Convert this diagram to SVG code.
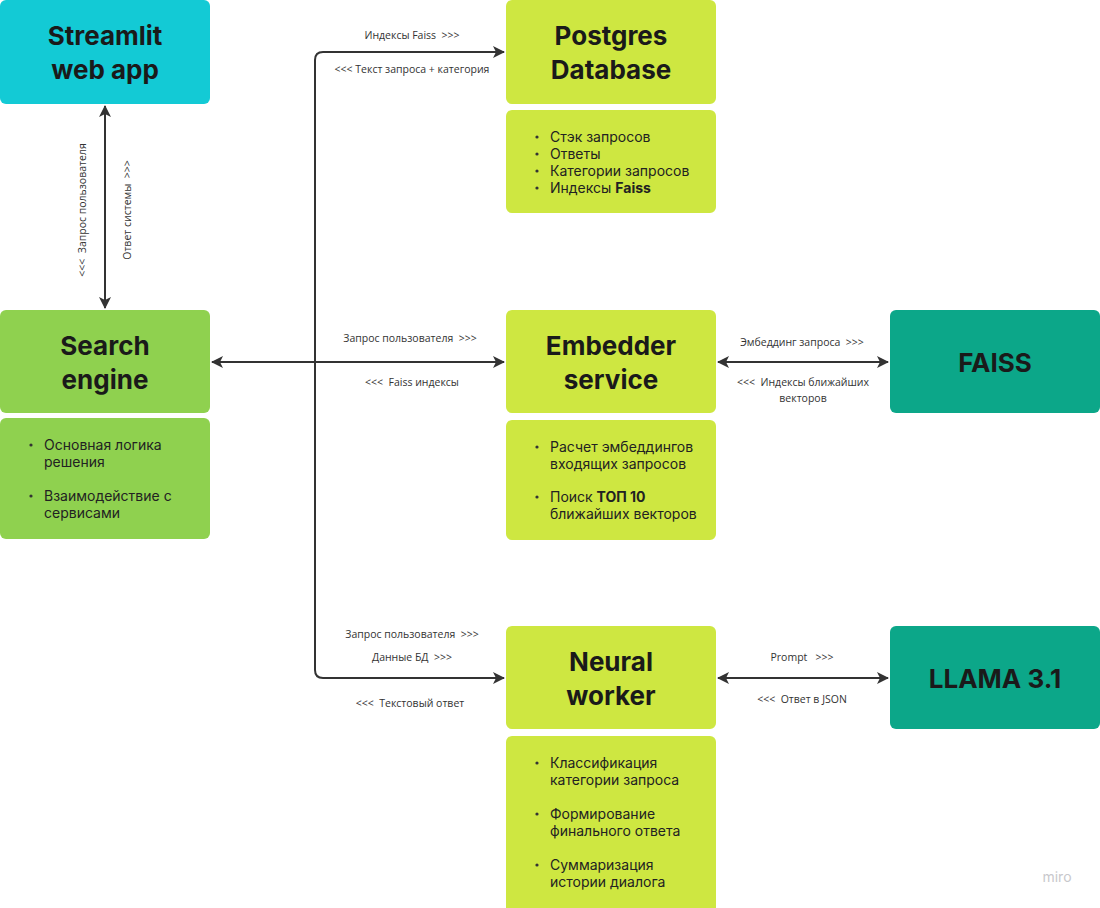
<svg xmlns="http://www.w3.org/2000/svg" width="1100" height="908" viewBox="0 0 1100 908">
<style>
.title{font-family:"Inter","Noto Sans","DejaVu Sans",sans-serif;font-weight:700;font-size:26px;fill:#1a1a1a;text-anchor:middle}
.bul{font-family:"Inter","Noto Sans","DejaVu Sans",sans-serif;font-size:14px;fill:#222}
.lbl{font-family:"Open Sans","Noto Sans","DejaVu Sans",sans-serif;font-size:10.5px;fill:#333;text-anchor:middle;white-space:pre}
.conn{fill:none;stroke:#333;stroke-width:2}
.dot{fill:#333}
</style>
<defs>
<marker id="ah" viewBox="0 0 12 12" refX="11" refY="6" markerWidth="12" markerHeight="12" markerUnits="userSpaceOnUse" orient="auto-start-reverse">
<path d="M0,0 L12,6 L0,12 L3,6 Z" fill="#333"/>
</marker>
</defs>
<rect width="1100" height="908" fill="#ffffff"/>

<g id="streamlit">
<rect x="0" y="0" width="210" height="104" rx="6" fill="#13CAD5"/>
<text class="title" x="105" y="45">Streamlit</text>
<text class="title" x="105" y="79">web app</text>
</g>

<g id="search-engine">
<rect x="0" y="310" width="210" height="103" rx="6" fill="#8FD14F"/>
<text class="title" x="105" y="355">Search</text>
<text class="title" x="105" y="389">engine</text>
</g>
<g id="search-engine-notes">
<rect x="0" y="418" width="210" height="121" rx="6" fill="#8FD14F"/>
<circle class="dot" cx="31" cy="445" r="1.6"/>
<text class="bul" x="44" y="450">Основная логика</text>
<text class="bul" x="44" y="467">решения</text>
<circle class="dot" cx="31" cy="496" r="1.6"/>
<text class="bul" x="44" y="501">Взаимодействие с</text>
<text class="bul" x="44" y="518">сервисами</text>
</g>

<g id="postgres">
<rect x="506" y="0" width="210" height="104" rx="6" fill="#CEE741"/>
<text class="title" x="611" y="45">Postgres</text>
<text class="title" x="611" y="79">Database</text>
</g>
<g id="postgres-notes">
<rect x="506" y="110" width="210" height="103" rx="6" fill="#CEE741"/>
<circle class="dot" cx="537" cy="137" r="1.6"/>
<text class="bul" x="550" y="142">Стэк запросов</text>
<circle class="dot" cx="537" cy="154" r="1.6"/>
<text class="bul" x="550" y="159">Ответы</text>
<circle class="dot" cx="537" cy="171" r="1.6"/>
<text class="bul" x="550" y="176">Категории запросов</text>
<circle class="dot" cx="537" cy="188" r="1.6"/>
<text class="bul" x="550" y="193">Индексы <tspan font-weight="700">Faiss</tspan></text>
</g>

<g id="embedder">
<rect x="506" y="310" width="210" height="103" rx="6" fill="#CEE741"/>
<text class="title" x="611" y="355">Embedder</text>
<text class="title" x="611" y="389">service</text>
</g>
<g id="embedder-notes">
<rect x="506" y="420" width="210" height="120" rx="6" fill="#CEE741"/>
<circle class="dot" cx="537" cy="447" r="1.6"/>
<text class="bul" x="550" y="452">Расчет эмбеддингов</text>
<text class="bul" x="550" y="469">входящих запросов</text>
<circle class="dot" cx="537" cy="497" r="1.6"/>
<text class="bul" x="550" y="502">Поиск <tspan font-weight="700">ТОП 10</tspan></text>
<text class="bul" x="550" y="519">ближайших векторов</text>
</g>

<g id="neural-worker">
<rect x="506" y="626" width="210" height="103" rx="6" fill="#CEE741"/>
<text class="title" x="611" y="671">Neural</text>
<text class="title" x="611" y="705">worker</text>
</g>
<g id="neural-worker-notes">
<rect x="506" y="736" width="210" height="178" rx="6" fill="#CEE741"/>
<circle class="dot" cx="537" cy="763" r="1.6"/>
<text class="bul" x="550" y="768">Классификация</text>
<text class="bul" x="550" y="785">категории запроса</text>
<circle class="dot" cx="537" cy="814" r="1.6"/>
<text class="bul" x="550" y="819">Формирование</text>
<text class="bul" x="550" y="836">финального ответа</text>
<circle class="dot" cx="537" cy="865" r="1.6"/>
<text class="bul" x="550" y="870">Суммаризация</text>
<text class="bul" x="550" y="887">истории диалога</text>
</g>

<g id="faiss">
<rect x="890" y="310" width="210" height="103" rx="6" fill="#0CA789"/>
<text class="title" x="995" y="372">FAISS</text>
</g>

<g id="llama">
<rect x="890" y="626" width="210" height="103" rx="6" fill="#0CA789"/>
<text class="title" x="995" y="688">LLAMA 3.1</text>
</g>

<g id="connectors">
<line class="conn" x1="105" y1="106" x2="105" y2="308" marker-start="url(#ah)" marker-end="url(#ah)"/>
<line class="conn" x1="212" y1="362" x2="504" y2="362" marker-start="url(#ah)" marker-end="url(#ah)"/>
<path class="conn" d="M504,52 L323,52 Q315,52 315,60 L315,670 Q315,678 323,678 L504,678" marker-start="url(#ah)" marker-end="url(#ah)"/>
<line class="conn" x1="718" y1="362" x2="888" y2="362" marker-start="url(#ah)" marker-end="url(#ah)"/>
<line class="conn" x1="718" y1="678" x2="888" y2="678" marker-start="url(#ah)" marker-end="url(#ah)"/>

<text class="lbl" transform="translate(86,210) rotate(-90)">&lt;&lt;&lt;  Запрос пользователя</text>
<text class="lbl" transform="translate(131,210) rotate(-90)">Ответ системы  &gt;&gt;&gt;</text>

<text class="lbl" x="412" y="39">Индексы Faiss  &gt;&gt;&gt;</text>
<text class="lbl" x="412" y="73">&lt;&lt;&lt; Текст запроса + категория</text>

<text class="lbl" x="410" y="342">Запрос пользователя  &gt;&gt;&gt;</text>
<text class="lbl" x="412" y="386">&lt;&lt;&lt;  Faiss индексы</text>

<text class="lbl" x="802" y="346">Эмбеддинг запроса  &gt;&gt;&gt;</text>
<text class="lbl" x="803" y="386">&lt;&lt;&lt;  Индексы ближайших</text>
<text class="lbl" x="803" y="402">векторов</text>

<text class="lbl" x="412" y="638">Запрос пользователя  &gt;&gt;&gt;</text>
<text class="lbl" x="412" y="661">Данные БД  &gt;&gt;&gt;</text>
<text class="lbl" x="410" y="707">&lt;&lt;&lt;  Текстовый ответ</text>

<text class="lbl" x="802" y="661">Prompt   &gt;&gt;&gt;</text>
<text class="lbl" x="802" y="703">&lt;&lt;&lt;  Ответ в JSON</text>
</g>

<text x="1057" y="882" font-family="Inter,'Noto Sans',sans-serif" font-size="14" fill="#c8c8cc" text-anchor="middle">miro</text>
</svg>
